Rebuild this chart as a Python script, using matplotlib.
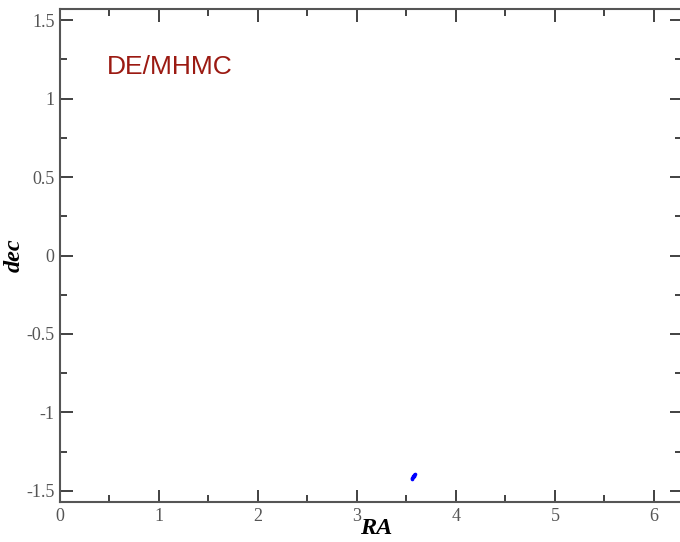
import numpy as np
import matplotlib
matplotlib.use("Agg")
import matplotlib.pyplot as plt
from matplotlib.ticker import MultipleLocator

ra = [3.555, 3.562, 3.568, 3.572, 3.578, 3.583, 3.566, 3.574, 3.560]
dec = [-1.422, -1.414, -1.408, -1.402, -1.396, -1.392, -1.412, -1.404, -1.418]
xticks = [0, 1, 2, 3, 4, 5, 6]
yticks = [-1.5, -1, -0.5, 0, 0.5, 1, 1.5]
yticklabels = ["-1.5", "-1", "-0.5", "0", "0.5", "1", "1.5"]

W, H = 680, 542
fig = plt.figure(figsize=(W/100, H/100), dpi=100)
left, right, top, bottom = 60, 682, 9, 502
ax = fig.add_axes([left/W, 1-bottom/H, (right-left)/W, (bottom-top)/H])

ax.plot(ra, dec, 'o', color='#0000ff', markersize=2.6, markeredgewidth=0)
ax.plot(ra, dec, '-', color='#0000ff', linewidth=1.2)

ax.set_xlim(0, 2*np.pi)
ax.set_ylim(-np.pi/2, np.pi/2)
ax.set_xticks(xticks)
ax.set_xticklabels([str(t) for t in xticks])
ax.set_yticks(yticks)
ax.set_yticklabels(yticklabels)
ax.xaxis.set_minor_locator(MultipleLocator(0.5))
ax.yaxis.set_minor_locator(MultipleLocator(0.25))

gray = '#555555'
for s in ax.spines.values():
    s.set_color(gray)
    s.set_linewidth(1.5)
ax.tick_params(which='major', direction='in', length=9, width=1.3, color='#333333',
               top=True, right=True, labelsize=13, labelcolor=gray, pad=4)
ax.tick_params(which='minor', direction='in', length=5, width=1.3, color='#333333',
               top=True, right=True)
for lab in ax.get_xticklabels() + ax.get_yticklabels():
    lab.set_family('Liberation Serif')

ax.set_xlabel('RA', fontsize=17.5, fontweight='bold', fontstyle='italic',
              family='Liberation Serif')
ax.set_ylabel('dec', fontsize=17.5, fontweight='bold', fontstyle='italic',
              family='Liberation Serif')
ax.xaxis.set_label_coords(0.508, -0.033)
ax.yaxis.set_label_coords(-0.056, 0.5)

ax.text(0.47, 1.2, 'DE/MHMC', color='#9b1a12', fontsize=19,
        family='Liberation Sans', va='center', ha='left')

fig.savefig('out.png', dpi=100)
